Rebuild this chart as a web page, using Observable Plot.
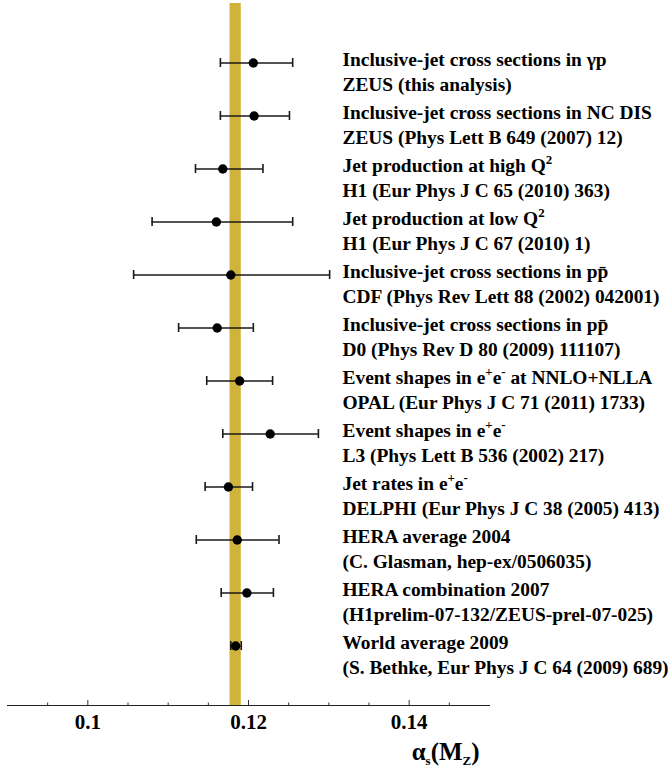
<!DOCTYPE html>
<html>
<head>
<meta charset="utf-8">
<script src="https://cdn.jsdelivr.net/npm/d3@7"></script>
<script src="https://cdn.jsdelivr.net/npm/@observablehq/plot@0.6"></script>
<style>
  body { margin: 0; background: white; }
</style>
</head>
<body>
<div id="chart"></div>
<script>
// Mediciones de alpha_s(M_Z), de arriba hacia abajo
const labelsTop = [
  "Inclusive-jet cross sections in γp",
  "Inclusive-jet cross sections in NC DIS",
  "Jet production at high Q^{2}",
  "Jet production at low Q^{2}",
  "Inclusive-jet cross sections in pp\u0304",
  "Inclusive-jet cross sections in pp\u0304",
  "Event shapes in e^{+}e^{-} at NNLO+NLLA",
  "Event shapes in e^{+}e^{-}",
  "Jet rates in e^{+}e^{-}",
  "HERA average 2004",
  "HERA combination 2007",
  "World average 2009"
]
const labelsBottom = [
  "ZEUS (this analysis)",
  "ZEUS (Phys Lett B 649 (2007) 12)",
  "H1 (Eur Phys J C 65 (2010) 363)",
  "H1 (Eur Phys J C 67 (2010) 1)",
  "CDF (Phys Rev Lett 88 (2002) 042001)",
  "D0 (Phys Rev D 80 (2009) 111107)",
  "OPAL (Eur Phys J C 71 (2011) 1733)",
  "L3 (Phys Lett B 536 (2002) 217)",
  "DELPHI (Eur Phys J C 38 (2005) 413)",
  "(C. Glasman, hep-ex/0506035)",
  "(H1prelim-07-132/ZEUS-prel-07-025)",
  "(S. Bethke, Eur Phys J C 64 (2009) 689)"
]
const alphaS   = [0.1206, 0.1207, 0.1168, 0.1160, 0.1178, 0.1161, 0.1189, 0.1227, 0.1175, 0.1186, 0.1198, 0.1184]
const errMinus = [0.0041, 0.0042, 0.0034, 0.0080, 0.0121, 0.0048, 0.0041, 0.0059, 0.0029, 0.0051, 0.0032, 0.0006]
const errPlus  = [0.0049, 0.0044, 0.0050, 0.0095, 0.0123, 0.0045, 0.0041, 0.0060, 0.0030, 0.0052, 0.0033, 0.0007]

// banda del promedio mundial
const worldAvg = 0.1184
const worldErr = 0.0007

const majorTicks = [0.1, 0.12, 0.14]
const minorTicks = [0.095, 0.105, 0.11, 0.115, 0.125, 0.13, 0.135, 0.145]
const axisTitle = "α_{s}(M_{Z})"

const data = alphaS.map((v, i) => ({
  id: i,
  top: labelsTop[i],
  bottom: labelsBottom[i],
  val: v,
  lo: v - errMinus[i],
  hi: v + errPlus[i]
}))

const serif = "'Times New Roman', 'Liberation Serif', Tinos, 'DejaVu Serif', serif"

let chart = Plot.plot({
  width: 668,
  height: 769,
  marginTop: 3,
  marginBottom: 64,
  marginLeft: 7,
  marginRight: 179,
  style: {background: "white", color: "black"},
  x: {domain: [0.09, 0.15]},
  y: {type: "band", domain: data.map(d => d.id), paddingInner: 0.8333, paddingOuter: 0.9167, axis: null},
  marks: [
    Plot.rect([worldAvg], {x1: d => d - worldErr, x2: d => d + worldErr, fill: "#cfb33a"}),
    Plot.frame({anchor: "bottom", stroke: "#222"}),
    Plot.axisX({ticks: majorTicks, tickSize: -5, tickFormat: () => "", label: null, stroke: "#333"}),
    Plot.axisX({ticks: minorTicks, tickSize: -2.5, tickFormat: () => "", label: null, stroke: "#333"}),
    Plot.axisX({ticks: majorTicks, tickSize: 0, tickPadding: 9, tickFormat: d => `${d}`, label: null,
      fontSize: 21, fontWeight: "bold", fontFamily: serif, fill: "black"}),
    Plot.ruleY(data, {y: "id", x1: "lo", x2: "hi", stroke: "#1a1a1a", strokeWidth: 1.4}),
    Plot.tickX(data, {x: "lo", y: "id", stroke: "#1a1a1a", strokeWidth: 1.6}),
    Plot.tickX(data, {x: "hi", y: "id", stroke: "#1a1a1a", strokeWidth: 1.6}),
    Plot.dot(data, {x: "val", y: "id", r: 4.7, fill: "black", stroke: "none"}),
    Plot.text(data, {y: "id", text: "top", frameAnchor: "right", dx: -147, dy: -3,
      textAnchor: "start", fontSize: 19.4, fontWeight: "bold", fontFamily: serif, fill: "black"}),
    Plot.text(data, {y: "id", text: "bottom", frameAnchor: "right", dx: -147, dy: 21.5,
      textAnchor: "start", fontSize: 19.4, fontWeight: "bold", fontFamily: serif, fill: "black"}),
    Plot.text([axisTitle], {text: d => d, frameAnchor: "bottom-right", dx: -10, dy: 54,
      textAnchor: "end", lineAnchor: "bottom", fontSize: 25, fontWeight: "bold", fontFamily: serif, fill: "black"})
  ]
})

// sub/superíndices: x^{..} y x_{..} pasan a tspan
function richText(node) {
  const s = node.textContent
  if (!/[_^]\{/.test(s)) return
  const fs = parseFloat(node.getAttribute("font-size")) || 19
  node.textContent = ""
  const re = /([_^])\{([^}]*)\}/g
  let last = 0, m, shift = 0
  const add = (t, target, small) => {
    const ts = document.createElementNS("http://www.w3.org/2000/svg", "tspan")
    ts.textContent = t
    const dy = target - shift
    if (dy) ts.setAttribute("dy", dy)
    if (small) ts.setAttribute("font-size", fs * 0.68)
    shift = target
    node.appendChild(ts)
  }
  while ((m = re.exec(s))) {
    if (m.index > last) add(s.slice(last, m.index), 0, false)
    add(m[2], m[1] === "^" ? -fs * 0.42 : fs * 0.28, true)
    last = re.lastIndex
  }
  if (last < s.length) add(s.slice(last), 0, false)
}
chart.querySelectorAll("text").forEach(richText)

d3.select('#chart').append(() => chart)
</script>
</body>
</html>
